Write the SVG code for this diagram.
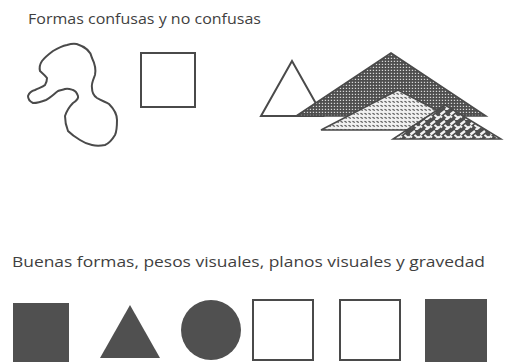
<svg xmlns="http://www.w3.org/2000/svg" width="506" height="362" viewBox="0 0 506 362">
<style>
.t{font-family:"Open Sans","Liberation Sans",sans-serif;font-size:14.5px;fill:#3f3f3f}
.o{fill:none;stroke:#4a4a4a;stroke-width:2}
.w{fill:#fff;stroke:#4a4a4a;stroke-width:2}
.f{fill:#505050}
</style>
<defs>
<pattern id="dots" width="3" height="3" patternUnits="userSpaceOnUse">
<rect width="3" height="3" fill="#4d4d4d"/>
<rect x="0.8" y="0.8" width="1.3" height="1.1" fill="#e8e8e8"/>
</pattern>
<pattern id="dash" width="4" height="4" patternUnits="userSpaceOnUse">
<rect width="4" height="4" fill="#f0f0f0"/>
<path d="M0.5 1.2 L2.8 2.6" stroke="#555" stroke-width="1.2"/>
</pattern>
<pattern id="weave" width="10" height="10" patternUnits="userSpaceOnUse">
<rect width="10" height="10" fill="#4d4d4d"/>
<path d="M0.5 4.5 L5 1 M5.5 10 L10 6.5" stroke="#f2f2f2" stroke-width="2.4"/>
<path d="M4.5 5 L9 8.5 M-0.5 5.5 L2 7.5" stroke="#f2f2f2" stroke-width="2.2"/>
</pattern>
</defs>
<text class="t" x="28" y="24" textLength="233" lengthAdjust="spacingAndGlyphs">Formas confusas y no confusas</text>
<g id="blob">
<path class="o" d="M76.7 44 C86 47 91 52 92 58 C95 64 96 70 95 75 C93 80 91 84 92 88 C92 93 94 96 97 98 C102 101 106 102 109 104 C114 109 117 114 117 120 C117 127 117 131 115 135 C112 140 110 143 105 145 C100 146 96 146 92 145 C87 144 83 142 80 140 C75 137 71 134 68 131 C66 126 65 121 65 116 C67 110 70 106 73 103 C76 101 79 99 78 96 C77 93 76 91 73 90 C70 89 68 88 65 89 C62 90 60 90 58 91 C54 94 50 98 46 100 C41 102 37 103 33 103 C29 101 28 99 28 96 C29 93 31 91 35 90 C39 88 43 87 45 85 C47 82 47 80 47 78 C45 75 42 73 40 71 C39 67 40 64 42 61 C45 57 49 54 53 51 C58 48 62 46 67 45 C70 44 73 43 76.7 44 Z"/>
</g>
<g id="square1"><rect class="w" x="141" y="53" width="54" height="54"/></g>
<g id="triangles">
<polygon class="w" points="292,61 261,116 323,116"/>
<polygon fill="url(#dots)" stroke="#4a4a4a" stroke-width="1.5" points="391,53 296,116 486,116"/>
<polygon fill="url(#dash)" stroke="#4a4a4a" stroke-width="1.5" points="398,90 321,130 475,130"/>
<polygon fill="url(#weave)" stroke="#4a4a4a" stroke-width="1.5" points="445,105 393,139 501,139"/>
</g>
<text class="t" x="12" y="267" textLength="473" lengthAdjust="spacingAndGlyphs">Buenas formas, pesos visuales, planos visuales y gravedad</text>
<g id="sq-filled"><rect class="f" x="13" y="303" width="56" height="59"/></g>
<g id="tri-filled"><polygon class="f" points="130,305 100,358 160,358"/></g>
<g id="circle"><circle class="f" cx="211" cy="330" r="30"/></g>
<g id="sq-outline1"><rect class="w" x="253" y="300" width="60" height="60"/></g>
<g id="sq-outline2"><rect class="w" x="340" y="300" width="60" height="60"/></g>
<g id="sq-filled2"><rect class="f" x="425" y="299" width="62" height="63"/></g>
</svg>
